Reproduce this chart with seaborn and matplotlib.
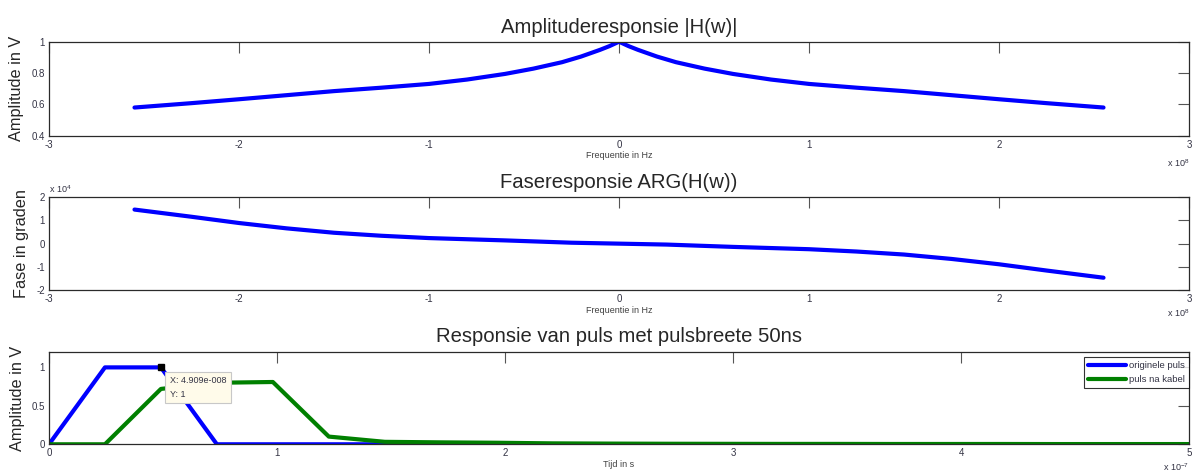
"""Recreate the MATLAB-style cable response figure (amplitude, phase, pulse)."""
import numpy as np
import matplotlib
matplotlib.use('Agg')
import matplotlib.pyplot as plt
from matplotlib.ticker import FuncFormatter, MultipleLocator
import seaborn as sns

# Amplitude response (frequency in units of 1e8 Hz)
freq_amp = [-2.55, -2.25, -2.0, -1.75, -1.5, -1.25, -1.0, -0.8, -0.6, -0.45, -0.3,
            -0.2, -0.1, -0.05, 0.0, 0.05, 0.1, 0.2, 0.3, 0.45, 0.6, 0.8, 1.0,
            1.25, 1.5, 1.75, 2.0, 2.25, 2.55]
amplitude = [0.579, 0.607, 0.632, 0.658, 0.684, 0.706, 0.730, 0.758, 0.794, 0.828, 0.869,
             0.905, 0.948, 0.972, 1.0, 0.972, 0.948, 0.905, 0.869, 0.828, 0.794, 0.758, 0.730,
             0.706, 0.684, 0.658, 0.632, 0.607, 0.579]

# Phase response (frequency in 1e8 Hz, phase in 1e4 degrees)
freq_phase = [-2.55, -2.25, -2.0, -1.75, -1.5, -1.25, -1.0, -0.6, -0.25, 0.0,
              0.25, 0.6, 1.0, 1.25, 1.5, 1.75, 2.0, 2.25, 2.55]
phase = [1.47, 1.16, 0.89, 0.66, 0.47, 0.34, 0.24, 0.14, 0.04, 0.0,
         -0.04, -0.14, -0.24, -0.34, -0.47, -0.66, -0.89, -1.16, -1.47]

# Pulse response, sampled every 2.4545 ns (data tip shows X: 4.909e-008)
t_step = 4.909e-8 / 2
original_pulse = [0, 1, 1, 0, 0, 0, 0, 0, 0, 0, 0,
                  0, 0, 0, 0, 0, 0, 0, 0, 0, 0, 0]
cable_pulse = [0, 0, 0.72, 0.80, 0.81, 0.10, 0.032, 0.025, 0.02, 0.012, 0.009,
               0.007, 0.006, 0.005, 0.005, 0.004, 0.004, 0.004, 0.003, 0.003, 0.003, 0.003]
pulse_labels = ['originele puls', 'puls na kabel']

FONT = ['Liberation Sans', 'DejaVu Sans']
TICK_COLOR = '#333344'


def style_axes(ax):
    """MATLAB look: box on, ticks inside on all four sides."""
    for spine in ax.spines.values():
        spine.set_color('#2a2a2a')
        spine.set_linewidth(0.9)
    ax.tick_params(direction='in', length=8, width=0.8, color='#555555',
                   top=True, right=True, labelsize=7, labelcolor=TICK_COLOR, pad=3)
    ax.grid(False)


def main():
    sns.set_style('white')
    plt.rcParams['font.family'] = FONT
    plt.rcParams['mathtext.default'] = 'regular'

    fig = plt.figure(figsize=(11.92, 4.73), dpi=100)
    ax1 = fig.add_axes([0.0411, 0.7135, 0.9564, 0.1983])
    ax2 = fig.add_axes([0.0411, 0.3869, 0.9564, 0.1960])
    ax3 = fig.add_axes([0.0411, 0.0607, 0.9564, 0.1951])

    # --- amplitude ---
    sns.lineplot(x=np.array(freq_amp) * 1e8, y=amplitude, ax=ax1, color='blue',
                 lw=3, sort=False, estimator=None)
    ax1.set_xlim(-3e8, 3e8)
    ax1.set_ylim(0.4, 1.0)
    ax1.xaxis.set_major_locator(MultipleLocator(1e8))
    ax1.xaxis.set_major_formatter(FuncFormatter(lambda v, p: f'{v / 1e8:g}'))
    ax1.yaxis.set_major_locator(MultipleLocator(0.2))
    ax1.yaxis.set_major_formatter(FuncFormatter(lambda v, p: f'{v:g}'))
    ax1.set_title('Amplituderesponsie |H(w)|', fontsize=14.6, pad=6.5)
    ax1.set_xlabel('Frequentie in Hz', fontsize=6.5, color='#404040', labelpad=1)
    ax1.set_ylabel('Amplitude in V', fontsize=11.7, labelpad=5)
    ax1.text(1.0, -0.29, r'x 10$^{8}$', transform=ax1.transAxes, ha='right',
             va='center', fontsize=6.5, color=TICK_COLOR)
    style_axes(ax1)

    # --- phase ---
    sns.lineplot(x=np.array(freq_phase) * 1e8, y=np.array(phase) * 1e4, ax=ax2,
                 color='blue', lw=3, sort=False, estimator=None)
    ax2.set_xlim(-3e8, 3e8)
    ax2.set_ylim(-2e4, 2e4)
    ax2.xaxis.set_major_locator(MultipleLocator(1e8))
    ax2.xaxis.set_major_formatter(FuncFormatter(lambda v, p: f'{v / 1e8:g}'))
    ax2.yaxis.set_major_locator(MultipleLocator(1e4))
    ax2.yaxis.set_major_formatter(FuncFormatter(lambda v, p: f'{v / 1e4:g}'))
    ax2.set_title('Faseresponsie ARG(H(w))', fontsize=14.6, pad=7)
    ax2.set_xlabel('Frequentie in Hz', fontsize=6.5, color='#404040', labelpad=1)
    ax2.set_ylabel('Fase in graden', fontsize=11.7, labelpad=5)
    ax2.text(1.0, -0.25, r'x 10$^{8}$', transform=ax2.transAxes, ha='right',
             va='center', fontsize=6.5, color=TICK_COLOR)
    ax2.text(0.0, 1.09, r'x 10$^{4}$', transform=ax2.transAxes, ha='left',
             va='center', fontsize=6.5, color=TICK_COLOR)
    style_axes(ax2)

    # --- pulse ---
    t = np.arange(len(original_pulse)) * t_step
    sns.lineplot(x=t, y=original_pulse, ax=ax3, color='blue', lw=3,
                 sort=False, estimator=None, label=pulse_labels[0])
    sns.lineplot(x=t, y=cable_pulse, ax=ax3, color='#008000', lw=3,
                 sort=False, estimator=None, label=pulse_labels[1])
    ax3.set_xlim(0, 5e-7)
    ax3.set_ylim(0, 1.2)
    ax3.xaxis.set_major_locator(MultipleLocator(1e-7))
    ax3.xaxis.set_major_formatter(FuncFormatter(lambda v, p: f'{v / 1e-7:g}'))
    ax3.yaxis.set_major_locator(MultipleLocator(0.5))
    ax3.yaxis.set_major_formatter(FuncFormatter(lambda v, p: f'{v:g}'))
    ax3.set_title('Responsie van puls met pulsbreete 50ns', fontsize=14.6, pad=7)
    ax3.set_xlabel('Tijd in s', fontsize=6.5, color='#404040', labelpad=1)
    ax3.set_ylabel('Amplitude in V', fontsize=11.7, labelpad=5)
    ax3.text(1.0, -0.245, r'x 10$^{-7}$', transform=ax3.transAxes, ha='right',
             va='center', fontsize=6.5, color=TICK_COLOR)
    style_axes(ax3)

    leg = ax3.legend(loc='upper right', bbox_to_anchor=(1.0, 0.95), borderaxespad=0,
                     fontsize=6.8, handlelength=4.0, frameon=True, fancybox=False,
                     borderpad=0.45, labelspacing=0.55, handletextpad=0.35)
    leg.get_frame().set_edgecolor('black')
    leg.get_frame().set_linewidth(0.8)
    for text in leg.get_texts():
        text.set_color('#333344')

    # data tip on the original pulse
    tip_x = 2 * t_step
    tip_y = original_pulse[2]
    ax3.plot([tip_x], [tip_y], marker='s', color='black', markersize=5, zorder=5)
    ax3.annotate(f'X: {tip_x:.3e}'.replace('e-08', 'e-008') + f'\nY: {tip_y:g}',
                 xy=(tip_x, tip_y), xytext=(9, -9), textcoords='offset pixels',
                 ha='left', va='top', fontsize=6.5, color='#333344', zorder=6,
                 linespacing=1.6,
                 bbox=dict(boxstyle='square,pad=0.5', facecolor='#FFFBEA',
                           edgecolor='#C8C8C8', linewidth=0.8))

    fig.savefig('out.png', dpi=100, facecolor='white')


if __name__ == '__main__':
    main()
